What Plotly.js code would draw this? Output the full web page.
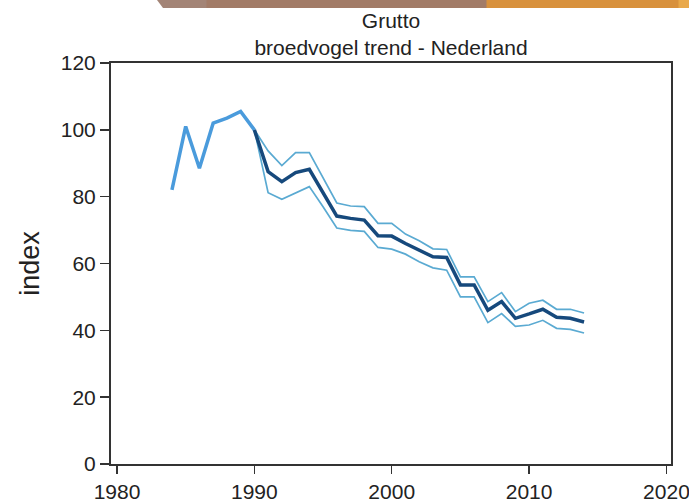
<!DOCTYPE html>
<html>
<head>
<meta charset="utf-8">
<script src="https://cdn.plot.ly/plotly-3.0.1.min.js"></script>
<style>html,body{margin:0;padding:0;background:#fff;}#chart{width:689px;height:501px;}</style>
</head>
<body>
<div id="chart"></div>
<script>
// Early counts (light line)
const earlyYears = [1984, 1985, 1986, 1987, 1988, 1989, 1990];
const earlyIndex = [82, 101, 88.5, 102, 103.5, 105.5, 100];

// Trend with confidence band (1990 = 100)
const trendYears = [1990, 1991, 1992, 1993, 1994, 1995, 1996, 1997, 1998, 1999, 2000, 2001, 2002,
                    2003, 2004, 2005, 2006, 2007, 2008, 2009, 2010, 2011, 2012, 2013, 2014];
const trendIndex = [100, 87.5, 84.5, 87.2, 88.2, 81, 74.2, 73.5, 73, 68.3, 68.2, 66, 64,
                    62, 61.8, 53.6, 53.6, 46, 48.6, 43.6, 44.9, 46.3, 43.9, 43.6, 42.5];
const upperIndex = [100, 93.7, 89.3, 93.2, 93.2, 85.6, 78.1, 77.2, 77, 72, 72, 68.8, 66.8,
                    64.4, 64.2, 56, 56, 48.6, 51.3, 45.6, 48.1, 49, 46.3, 46.3, 45.2];
const lowerIndex = [100, 81.2, 79.2, 81, 83, 77, 70.6, 69.9, 69.6, 64.8, 64.3, 62.8, 60.5,
                    58.7, 58, 50, 50, 42.3, 45, 41.2, 41.6, 43, 40.6, 40.3, 39.2];

const xTicks = [1980, 1990, 2000, 2010, 2020];
const yTicks = [0, 20, 40, 60, 80, 100, 120];

const titleLines = ['Grutto', 'broedvogel trend - Nederland'];
const yTitle = 'index';

const W = 689, H = 501, L = 111, R = 18, T = 63, B = 37;
const pw = W - L - R, ph = H - T - B;
function px(x) { return (x - L) / pw; }
function py(y) { return (H - B - y) / ph; }

const FONT = 'Liberation Sans, Arial, sans-serif';

const traces = [
  {x: trendYears, y: upperIndex, mode: 'lines', line: {color: '#5aaad2', width: 1.7}, hoverinfo: 'skip'},
  {x: trendYears, y: lowerIndex, mode: 'lines', line: {color: '#5aaad2', width: 1.7}, hoverinfo: 'skip'},
  {x: earlyYears, y: earlyIndex, mode: 'lines', line: {color: '#4a9bdc', width: 3.5}},
  {x: trendYears, y: trendIndex, mode: 'lines', line: {color: '#16497c', width: 3.5}}
];

const layout = {
  width: W, height: H,
  margin: {l: L, r: R, t: T, b: B, pad: 0},
  paper_bgcolor: '#ffffff', plot_bgcolor: '#ffffff',
  showlegend: false,
  font: {family: FONT, color: '#222', size: 21},
  title: {
    text: titleLines.join('<br>'),
    font: {family: FONT, size: 21, color: '#222'},
    x: (L + pw / 2) / W, xanchor: 'center',
    y: 1 - 28 / H, yanchor: 'middle', yref: 'container'
  },
  xaxis: {
    range: [1979.563, 2020.33],
    tickvals: xTicks, ticktext: xTicks.map(String),
    ticks: 'outside', ticklen: 8, tickwidth: 1.5, tickcolor: '#333',
    ticklabeloverflow: 'allow',
    showline: true, linecolor: '#333', linewidth: 2, mirror: true,
    showgrid: false, zeroline: false,
    tickfont: {family: FONT, size: 21, color: '#222'}
  },
  yaxis: {
    range: [0, 120],
    tickvals: yTicks, ticktext: yTicks.map(String),
    ticks: 'outside', ticklen: 9, tickwidth: 1.5, tickcolor: '#333',
    showline: true, linecolor: '#333', linewidth: 2, mirror: true,
    showgrid: false, zeroline: false,
    tickfont: {family: FONT, size: 21, color: '#222'},
    title: {text: yTitle, font: {family: FONT, size: 27, color: '#222'}, standoff: 13}
  },
  shapes: [
    {type: 'path', xref: 'paper', yref: 'paper', layer: 'above',
     path: 'M ' + px(157) + ' ' + py(0) + ' L ' + px(207) + ' ' + py(0) + ' L ' + px(207) + ' ' + py(8) + ' L ' + px(163) + ' ' + py(8) + ' Z',
     fillcolor: '#a38476', line: {width: 0}},
    {type: 'rect', xref: 'paper', yref: 'paper', layer: 'above',
     x0: px(206.5), x1: px(487), y0: py(8), y1: py(0),
     fillcolor: '#a27b67', line: {width: 0}},
    {type: 'rect', xref: 'paper', yref: 'paper', layer: 'above',
     x0: px(486.5), x1: px(679), y0: py(8), y1: py(0),
     fillcolor: '#d8913d', line: {width: 0}},
    {type: 'rect', xref: 'paper', yref: 'paper', layer: 'above',
     x0: px(678.5), x1: px(689), y0: py(8), y1: py(0),
     fillcolor: '#e9a94b', line: {width: 0}}
  ]
};

Plotly.newPlot('chart', traces, layout, {staticPlot: true, displayModeBar: false});
</script>
</body>
</html>
